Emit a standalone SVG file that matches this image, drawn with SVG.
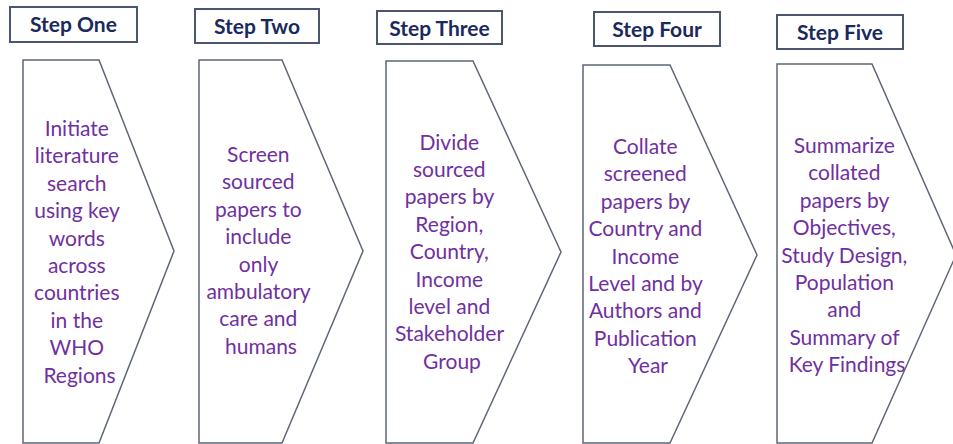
<svg xmlns="http://www.w3.org/2000/svg" width="953" height="444" viewBox="0 0 953 444">
  <style>
    .tag { fill: #ffffff; stroke: #4a5572; stroke-width: 2; }
    .tag-text { font-family: Lato, "Liberation Sans", sans-serif; font-weight: bold; font-size: 21px; fill: #1b2a5c; text-anchor: middle; }
    .chevron { fill: #ffffff; stroke: #5e6678; stroke-width: 1.5; stroke-linejoin: miter; }
    .body { font-family: Lato, "Liberation Sans", sans-serif; font-size: 21px; fill: #7030a0; text-anchor: middle; }
  </style>
  <rect width="953" height="444" fill="#ffffff"/>

  <!-- step 1 -->
  <g id="step-one">
    <rect class="tag" x="10" y="7" width="127" height="35"/>
    <text class="tag-text" x="73.5" y="32">Step One</text>
    <path class="chevron" d="M23,60 H99 L174,251 L99,443 H23 Z"/>
    <text class="body" y="136">
      <tspan x="79.5">Initiate</tspan>
      <tspan x="79.5" dy="27.4">literature</tspan>
      <tspan x="79.5" dy="27.4">search</tspan>
      <tspan x="79.5" dy="27.4">using key</tspan>
      <tspan x="79.5" dy="27.4">words</tspan>
      <tspan x="79.5" dy="27.4">across</tspan>
      <tspan x="79.5" dy="27.4">countries</tspan>
      <tspan x="79.5" dy="27.4">in the</tspan>
      <tspan x="79.5" dy="27.4">WHO</tspan>
      <tspan x="79.5" dy="27.4">Regions</tspan>
    </text>
  </g>

  <!-- step 2 -->
  <g id="step-two">
    <rect class="tag" x="195" y="9" width="124" height="34"/>
    <text class="tag-text" x="257" y="34">Step Two</text>
    <path class="chevron" d="M199,60 H282 L363,251 L282,443 H199 Z"/>
    <text class="body" y="162">
      <tspan x="261">Screen</tspan>
      <tspan x="261" dy="27.4">sourced</tspan>
      <tspan x="261" dy="27.4">papers to</tspan>
      <tspan x="261" dy="27.4">include</tspan>
      <tspan x="261" dy="27.4">only</tspan>
      <tspan x="261" dy="27.4">ambulatory</tspan>
      <tspan x="261" dy="27.4">care and</tspan>
      <tspan x="261" dy="27.4">humans</tspan>
    </text>
  </g>

  <!-- step 3 -->
  <g id="step-three">
    <rect class="tag" x="377" y="11" width="125" height="33"/>
    <text class="tag-text" x="439.5" y="36">Step Three</text>
    <path class="chevron" d="M386,61 H473 L561,252 L473,443 H386 Z"/>
    <text class="body" y="149.5">
      <tspan x="452">Divide</tspan>
      <tspan x="452" dy="27.4">sourced</tspan>
      <tspan x="452" dy="27.4">papers by</tspan>
      <tspan x="452" dy="27.4">Region,</tspan>
      <tspan x="452" dy="27.4">Country,</tspan>
      <tspan x="452" dy="27.4">Income</tspan>
      <tspan x="452" dy="27.4">level and</tspan>
      <tspan x="452" dy="27.4">Stakeholder</tspan>
      <tspan x="452" dy="27.4">Group</tspan>
    </text>
  </g>

  <!-- step 4 -->
  <g id="step-four">
    <rect class="tag" x="594" y="12" width="126" height="34"/>
    <text class="tag-text" x="657" y="37">Step Four</text>
    <path class="chevron" d="M583,65 H670 L757,255 L670,443 H583 Z"/>
    <text class="body" y="154">
      <tspan x="648">Collate</tspan>
      <tspan x="648" dy="27.4">screened</tspan>
      <tspan x="648" dy="27.4">papers by</tspan>
      <tspan x="648" dy="27.4">Country and</tspan>
      <tspan x="648" dy="27.4">Income</tspan>
      <tspan x="648" dy="27.4">Level and by</tspan>
      <tspan x="648" dy="27.4">Authors and</tspan>
      <tspan x="648" dy="27.4">Publication</tspan>
      <tspan x="648" dy="27.4">Year</tspan>
    </text>
  </g>

  <!-- step 5 -->
  <g id="step-five">
    <rect class="tag" x="777" y="15" width="126" height="34"/>
    <text class="tag-text" x="840" y="40">Step Five</text>
    <path class="chevron" d="M777,64 H872 L956,255 L872,443 H777 Z"/>
    <text class="body" y="153">
      <tspan x="847">Summarize</tspan>
      <tspan x="847" dy="27.4">collated</tspan>
      <tspan x="847" dy="27.4">papers by</tspan>
      <tspan x="847" dy="27.4">Objectives,</tspan>
      <tspan x="847" dy="27.4">Study Design,</tspan>
      <tspan x="847" dy="27.4">Population</tspan>
      <tspan x="847" dy="27.4">and</tspan>
      <tspan x="847" dy="27.4">Summary of</tspan>
      <tspan x="847" dy="27.4">Key Findings</tspan>
    </text>
  </g>

  <!-- flow is carried by the chevron shapes themselves; no separate links -->
  <g id="connectors"/>
</svg>
